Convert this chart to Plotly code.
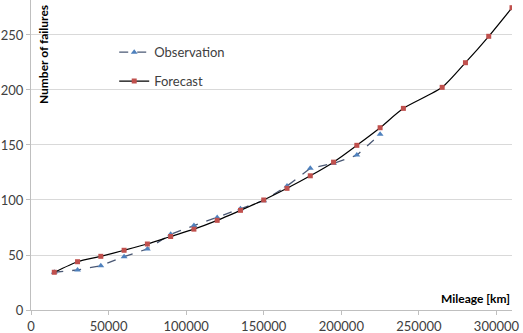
import plotly.graph_objects as go

obs_x = [15000, 30000, 45000, 60000, 75000, 90000, 105000, 120000, 135000, 150000,
         165000, 180000, 195000, 210000, 225000]
obs_y = [34.3, 36.4, 40.3, 48.5, 55.5, 68.8, 76.7, 84, 92, 99.4, 112.7, 128.8, 133.3, 140.8, 159.7]

fc_x = [15000, 30000, 45000, 60000, 75000, 90000, 105000, 120000, 135000, 150000,
        165000, 180000, 195000, 210000, 225000, 240000, 265000, 280000, 295000, 310000]
fc_y = [34.3, 43.9, 48.8, 54.3, 60.0, 66.8, 73.5, 81.5, 90.6, 100.0, 110.6, 122.0, 134.4,
        149.7, 165.7, 183.3, 202.4, 224.8, 248.8, 274.8]

x_ticks = [0, 50000, 100000, 150000, 200000, 250000, 300000]
y_ticks = [0, 50, 100, 150, 200, 250]

FONT = "Lato"
TXT = "#404040"

fig = go.Figure()
fig.add_trace(go.Scatter(
    x=obs_x, y=obs_y, name="Observation", mode="lines+markers",
    line=dict(color="#4A5874", width=1.3, dash="dash"),
    marker=dict(symbol="triangle-up", size=6, color="#4F81BD"),
    legendgroup="a",
))
fig.add_trace(go.Scatter(
    x=fc_x, y=fc_y, name="Forecast", mode="lines+markers",
    line=dict(color="#000000", width=1.2, shape="spline", smoothing=0.6),
    marker=dict(symbol="square", size=5, color="#C0504D"),
    legendgroup="b",
))

fig.update_layout(
    width=523, height=333,
    margin=dict(l=31, r=11, t=0, b=23),
    paper_bgcolor="white", plot_bgcolor="white",
    font=dict(family=FONT, size=13, color=TXT),
    showlegend=True,
    legend=dict(x=0.173, y=0.88, xanchor="left", yanchor="top",
                bgcolor="rgba(0,0,0,0)", tracegroupgap=9,
                font=dict(family=FONT, size=13, color=TXT), itemwidth=30),
    xaxis=dict(range=[0, 310000], tickvals=x_ticks, ticktext=[str(v) for v in x_ticks],
               showgrid=False, zeroline=False, showline=True, linecolor="#BFBFBF",
               ticks="outside", ticklen=4, tickcolor="#BFBFBF",
               tickfont=dict(family=FONT, size=13, color=TXT)),
    yaxis=dict(range=[0, 281.8], tickvals=y_ticks, showgrid=True, gridcolor="#D9D9D9",
               gridwidth=1, zeroline=False, showline=True, linecolor="#BFBFBF",
               ticks="outside", ticklen=4, tickcolor="#BFBFBF",
               tickfont=dict(family=FONT, size=13, color=TXT)),
    annotations=[
        dict(text="<b>Number of failures</b>", xref="paper", yref="paper",
             x=0.0, y=0.99, xshift=3, xanchor="left", yanchor="top", textangle=-90,
             showarrow=False, font=dict(family=FONT, size=12, color="#000000")),
        dict(text="<b>Mileage [km]</b>", xref="paper", yref="paper",
             x=1.0, y=0.0, yshift=2, xanchor="right", yanchor="bottom",
             showarrow=False, font=dict(family=FONT, size=12, color="#000000")),
    ],
)

fig.write_html("out.html")
